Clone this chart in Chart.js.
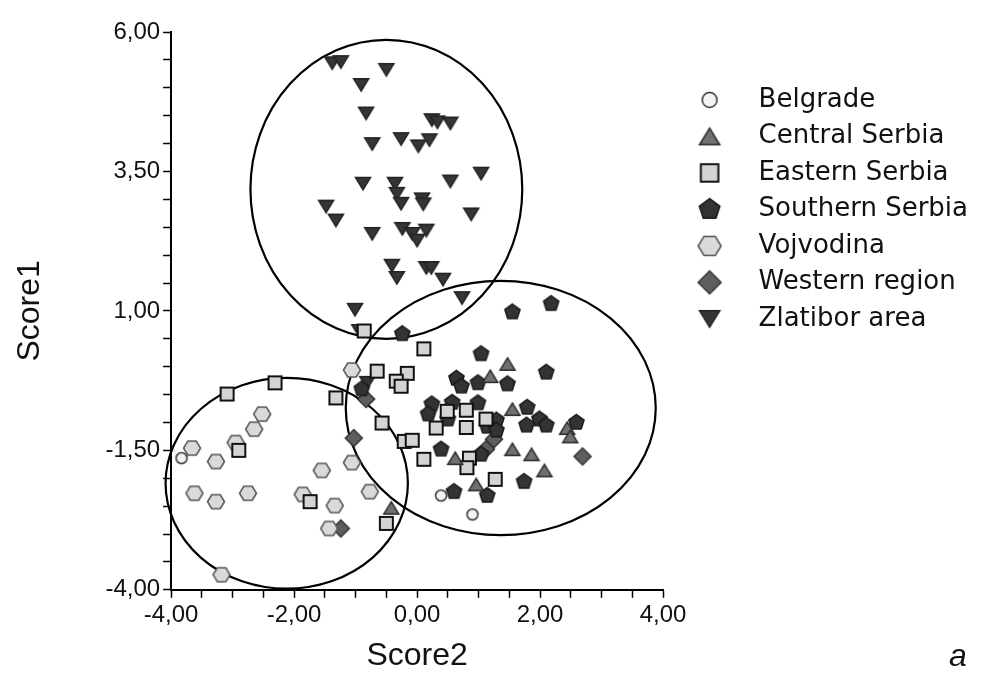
<!DOCTYPE html>
<html>
<head>
<meta charset="utf-8">
<title>Score1 / Score2</title>
<script src="https://cdn.jsdelivr.net/npm/chart.js@4.4.1/dist/chart.umd.min.js"></script>
<style>
  html, body { margin: 0; padding: 0; background: #fff; }
</style>
</head>
<body>
<canvas id="chart" width="986" height="677"></canvas>
<script>
/* ── Datos (Score2, Score1) ── */
const regions = ['Belgrade', 'Central Serbia', 'Eastern Serbia', 'Southern Serbia',
                 'Vojvodina', 'Western region', 'Zlatibor area'];

const belgrade = [[-3.83, -1.64], [0.39, -2.31], [0.90, -2.65]];

const centralSerbia = [[1.47, 0.05], [1.19, -0.17], [1.55, -0.76], [2.44, -1.10], [2.49, -1.25],
  [1.55, -1.48], [1.86, -1.57], [2.07, -1.86], [0.62, -1.64], [0.96, -2.11], [-0.42, -2.53]];

const easternSerbia = [[-0.86, 0.64], [0.11, 0.32], [-0.65, -0.08], [-0.16, -0.12], [-0.34, -0.26],
  [-0.26, -0.35], [-1.32, -0.56], [-0.57, -1.01], [-0.21, -1.34], [-0.08, -1.32], [0.49, -0.80],
  [0.80, -0.78], [0.31, -1.10], [0.80, -1.09], [1.12, -0.94], [0.11, -1.66], [0.85, -1.64],
  [0.81, -1.81], [1.27, -2.02], [-3.09, -0.49], [-2.31, -0.29], [-2.90, -1.50], [-1.74, -2.42],
  [-0.50, -2.81]];

const southernSerbia = [[1.55, 0.98], [2.18, 1.13], [-0.24, 0.59], [1.04, 0.23], [2.10, -0.10],
  [0.64, -0.21], [0.72, -0.35], [0.99, -0.29], [1.47, -0.31], [0.24, -0.67], [0.18, -0.85],
  [0.57, -0.64], [0.99, -0.65], [0.50, -0.94], [1.29, -0.96], [1.14, -1.07], [1.29, -1.14],
  [1.79, -0.73], [1.99, -0.94], [1.78, -1.05], [2.10, -1.05], [2.59, -1.00], [0.39, -1.48],
  [1.04, -1.57], [0.60, -2.24], [1.14, -2.31], [1.74, -2.06], [-0.90, -0.40]];

const vojvodina = [[-2.52, -0.85], [-2.65, -1.12], [-2.95, -1.36], [-3.66, -1.46], [-3.27, -1.70],
  [-3.62, -2.27], [-3.27, -2.42], [-2.75, -2.27], [-1.86, -2.29], [-1.55, -1.86], [-1.06, -1.72],
  [-0.77, -2.24], [-1.34, -2.49], [-1.43, -2.90], [-3.18, -3.73], [-1.06, -0.06]];

const westernRegion = [[-0.83, -0.58], [-1.03, -1.28], [-1.24, -2.90], [1.25, -1.30],
  [1.12, -1.48], [2.69, -1.61]];

const zlatibor = [[-1.38, 5.44], [-1.24, 5.46], [-0.50, 5.32], [-0.91, 5.05], [-0.83, 4.54],
  [0.24, 4.42], [0.33, 4.38], [0.54, 4.36], [-0.73, 3.99], [-0.26, 4.08], [0.02, 3.95],
  [0.20, 4.06], [1.04, 3.46], [-0.88, 3.28], [-0.36, 3.28], [0.54, 3.32], [-0.33, 3.10],
  [-0.26, 2.92], [0.08, 3.00], [0.10, 2.91], [-1.48, 2.87], [-1.32, 2.62], [0.88, 2.73],
  [-0.73, 2.38], [-0.24, 2.47], [-0.08, 2.38], [0.15, 2.44], [0.00, 2.26], [-0.41, 1.81],
  [-0.33, 1.59], [0.15, 1.77], [0.23, 1.77], [0.42, 1.56], [0.73, 1.23], [-1.01, 1.02],
  [-0.94, 0.64], [-0.81, -0.29]];

/* ── Elipses de agrupación (centro y semiejes, en unidades de datos) ── */
const ellipseCx = [-0.50, -2.12, 1.36];
const ellipseCy = [3.18, -2.09, -0.74];
const ellipseRx = [2.21, 1.97, 2.52];
const ellipseRy = [2.68, 1.89, 2.28];

/* ── Ejes ── */
const xTickValues = [-4, -2, 0, 2, 4];
const xTickLabels = ['-4,00', '-2,00', '0,00', '2,00', '4,00'];
const yTickValues = [6, 3.5, 1, -1.5, -4];
const yTickLabels = ['6,00', '3,50', '1,00', '-1,50', '-4,00'];
const panelLabel = 'a';

/* ── Marcadores dibujados en canvas ── */
function makeMarker(shape, s, fill, stroke, lw) {
  const c = document.createElement('canvas');
  const size = Math.ceil(2 * s + 2 * lw + 4);
  c.width = c.height = size;
  const g = c.getContext('2d');
  const m = size / 2;
  g.beginPath();
  if (shape === 'circle') {
    g.arc(m, m, s, 0, Math.PI * 2);
  } else if (shape === 'square') {
    g.rect(m - s, m - s, 2 * s, 2 * s);
  } else if (shape === 'diamond') {
    g.moveTo(m, m - s); g.lineTo(m + s, m); g.lineTo(m, m + s); g.lineTo(m - s, m);
  } else if (shape === 'up' || shape === 'down') {
    const h = s * 0.82, d = shape === 'up' ? 1 : -1;
    g.moveTo(m, m - d * h); g.lineTo(m + s, m + d * h); g.lineTo(m - s, m + d * h);
  } else {
    const n = shape === 'pentagon' ? 5 : 6;
    const a0 = shape === 'pentagon' ? -Math.PI / 2 : 0;
    const ry = shape === 'hexagon' ? 0.95 : 1;
    for (let k = 0; k < n; k++) {
      const a = a0 + k * 2 * Math.PI / n;
      const px = m + s * Math.cos(a), py = m + s * ry * Math.sin(a);
      k ? g.lineTo(px, py) : g.moveTo(px, py);
    }
  }
  g.closePath();
  g.fillStyle = fill;
  g.fill();
  g.lineWidth = lw;
  g.strokeStyle = stroke;
  g.lineJoin = 'miter';
  g.stroke();
  return c;
}

const markerDefs = [
  { shape: 'circle',   s: 5.5, fill: '#f4f4f4', stroke: '#333', lw: 1.5 },
  { shape: 'up',       s: 7.5, fill: '#707070', stroke: '#2a2a2a', lw: 1.5 },
  { shape: 'square',   s: 6.5, fill: '#d4d4d4', stroke: '#111', lw: 2 },
  { shape: 'pentagon', s: 8,   fill: '#333333', stroke: '#1a1a1a', lw: 1.5 },
  { shape: 'hexagon',  s: 8.5, fill: '#dadada', stroke: '#555', lw: 1.5 },
  { shape: 'diamond',  s: 8.5, fill: '#5e5e5e', stroke: '#333', lw: 1.5 },
  { shape: 'down',     s: 7.5, fill: '#353535', stroke: '#222', lw: 1.5 },
];
const plotMarkers = markerDefs.map(d => makeMarker(d.shape, d.s, d.fill, d.stroke, d.lw));
const legendMarkers = markerDefs.map(d => makeMarker(d.shape, d.s * 1.35, d.fill, d.stroke, d.lw));

const seriesData = [belgrade, centralSerbia, easternSerbia, southernSerbia, vojvodina, westernRegion, zlatibor];

const datasets = regions.map((name, i) => ({
  label: name,
  data: seriesData[i].map(p => ({ x: p[0], y: p[1] })),
  pointStyle: plotMarkers[i],
  pointRadius: 7,
  pointHoverRadius: 7,
  backgroundColor: markerDefs[i].fill,
  borderColor: markerDefs[i].stroke,
  clip: false,
}));

/* ── Plugins: elipses y etiqueta del panel ── */
const ellipsePlugin = {
  id: 'ellipses',
  beforeDatasetsDraw(chart) {
    const { ctx, scales: { x, y } } = chart;
    ctx.save();
    ctx.strokeStyle = '#000';
    ctx.lineWidth = 2.2;
    ellipseCx.forEach((cx, i) => {
      const px = x.getPixelForValue(cx);
      const py = y.getPixelForValue(ellipseCy[i]);
      const rx = Math.abs(x.getPixelForValue(cx + ellipseRx[i]) - px);
      const ry = Math.abs(y.getPixelForValue(ellipseCy[i] + ellipseRy[i]) - py);
      ctx.beginPath();
      ctx.ellipse(px, py, rx, ry, 0, 0, Math.PI * 2);
      ctx.stroke();
    });
    ctx.restore();
  }
};

const panelLabelPlugin = {
  id: 'panelLabel',
  afterDraw(chart) {
    const ctx = chart.ctx;
    ctx.save();
    ctx.font = 'italic 32px "Liberation Sans", Arial, sans-serif';
    ctx.fillStyle = '#111';
    ctx.textAlign = 'center';
    ctx.textBaseline = 'middle';
    ctx.fillText(panelLabel, chart.width - 28, chart.height - 20);
    ctx.restore();
  }
};

const tickFont = { family: '"Liberation Sans", Arial, sans-serif', size: 24 };
const titleFont = { family: '"Liberation Sans", Arial, sans-serif', size: 32 };

function pickLabel(values, labels) {
  return v => {
    const i = values.findIndex(t => Math.abs(t - v) < 1e-6);
    return i >= 0 ? labels[i] : '';
  };
}

new Chart(document.getElementById('chart'), {
  type: 'scatter',
  data: { datasets },
  plugins: [ellipsePlugin, panelLabelPlugin],
  options: {
    responsive: false,
    animation: false,
    events: [],
    layout: { padding: { top: 32, right: 8, bottom: 0, left: 0 } },
    plugins: {
      tooltip: { enabled: false },
      legend: {
        position: 'right',
        align: 'start',
        maxWidth: 420,
        title: { display: true, text: ' ', font: { size: 12 }, padding: { top: 30, bottom: 0 } },
        labels: {
          usePointStyle: true,
          pointStyleWidth: 72,
          padding: 10.5,
          color: '#111',
          font: { family: '"DejaVu Sans", sans-serif', size: 26 },
          generateLabels: chart => chart.data.datasets.map((ds, i) => ({
            text: ds.label,
            pointStyle: legendMarkers[i],
            fillStyle: markerDefs[i].fill,
            strokeStyle: markerDefs[i].stroke,
            fontColor: '#111',
            lineWidth: 0,
            hidden: false,
            datasetIndex: i,
          })),
        },
      },
    },
    scales: {
      x: {
        type: 'linear',
        position: 'bottom',
        min: -4,
        max: 4,
        border: { display: true, color: '#000', width: 2 },
        grid: { drawOnChartArea: false, drawTicks: true, tickLength: 8, color: '#000', tickColor: '#000', tickWidth: 1.5 },
        ticks: { stepSize: 0.5, autoSkip: false, maxRotation: 0, padding: 3, color: '#111', font: tickFont,
                 callback: pickLabel(xTickValues, xTickLabels) },
        title: { display: true, text: 'Score2', color: '#111', font: titleFont, padding: { top: 4, bottom: 2 } },
      },
      y: {
        type: 'linear',
        position: 'left',
        min: -4,
        max: 6,
        border: { display: true, color: '#000', width: 2 },
        grid: { drawOnChartArea: false, drawTicks: true, tickLength: 8, color: '#000', tickColor: '#000', tickWidth: 1.5 },
        ticks: { stepSize: 0.5, autoSkip: false, padding: 3, color: '#111', font: tickFont,
                 callback: pickLabel(yTickValues, yTickLabels) },
        title: { display: true, text: 'Score1', color: '#111', font: titleFont, padding: { top: 11, bottom: 53 } },
      },
    },
  },
});
</script>
</body>
</html>
